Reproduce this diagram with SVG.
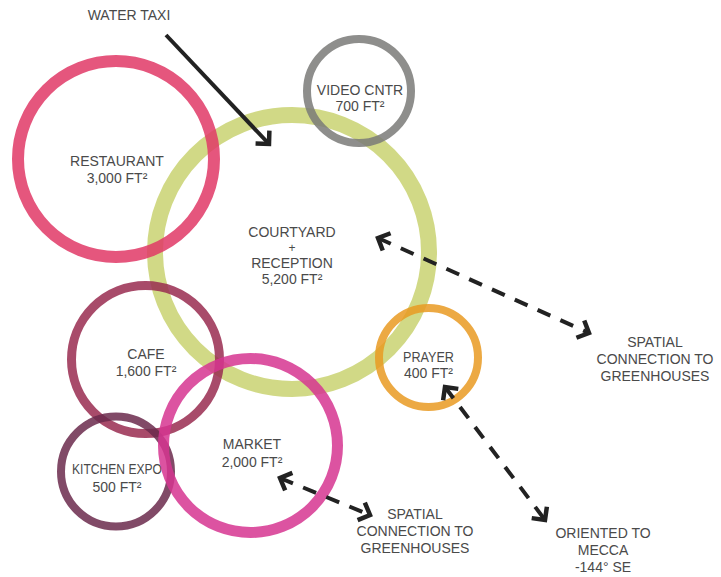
<svg xmlns="http://www.w3.org/2000/svg" width="721" height="577" viewBox="0 0 721 577">
<defs>
<style>
.ring{fill:none;opacity:0.85}
.t{font-family:"Liberation Sans",Arial,sans-serif;font-size:14px;fill:#4a4a4a;text-anchor:middle}
.solid{stroke:#222;stroke-width:4;fill:none}
.dash{stroke:#222;stroke-width:4;fill:none;stroke-dasharray:14 11}
</style>
<marker id="chev" viewBox="-20 -15 30 30" refX="0" refY="0" markerWidth="30" markerHeight="30" markerUnits="userSpaceOnUse" orient="auto-start-reverse">
<path d="M-9.5,-9.5 L0,0 L-9.5,9.5" fill="none" stroke="#222" stroke-width="4.5" stroke-linejoin="miter"/>
</marker>
</defs>
<rect width="721" height="577" fill="#fff"/>
<g id="courtyard">
<circle class="ring" cx="292" cy="252" r="137" stroke="#c9d271" stroke-width="16"/>
<text class="t" x="292" y="237">COURTYARD</text>
<text class="t" x="292" y="252" style="font-size:12px">+</text>
<text class="t" x="292" y="268">RECEPTION</text>
<text class="t" x="292" y="284">5,200 FT²</text>
</g>
<g id="restaurant">
<circle class="ring" cx="116" cy="159" r="98" stroke="#e03866" stroke-width="12"/>
<text class="t" x="117" y="166">RESTAURANT</text>
<text class="t" x="117" y="183">3,000 FT²</text>
</g>
<g id="video">
<circle class="ring" cx="359" cy="91" r="52" stroke="#7a7a78" stroke-width="8"/>
<text class="t" x="360" y="95">VIDEO CNTR</text>
<text class="t" x="360" y="111">700 FT²</text>
</g>
<g id="cafe">
<circle class="ring" cx="145.5" cy="359.5" r="74" stroke="#992c50" stroke-width="9"/>
<text class="t" x="146" y="359">CAFE</text>
<text class="t" x="146" y="376">1,600 FT²</text>
</g>
<g id="kitchen">
<circle class="ring" cx="116" cy="471.5" r="55" stroke="#6b2a4c" stroke-width="8"/>
<text class="t" x="117" y="474" textLength="90" lengthAdjust="spacingAndGlyphs">KITCHEN EXPO</text>
<text class="t" x="117" y="492">500 FT²</text>
</g>
<g id="market">
<circle class="ring" cx="250.5" cy="445.5" r="87" stroke="#d63590" stroke-width="11"/>
<text class="t" x="252" y="449">MARKET</text>
<text class="t" x="252" y="467">2,000 FT²</text>
</g>
<g id="prayer">
<circle class="ring" cx="428.5" cy="357.5" r="49.5" stroke="#e99a22" stroke-width="8"/>
<text class="t" x="428.5" y="362" textLength="51" lengthAdjust="spacingAndGlyphs">PRAYER</text>
<text class="t" x="428.5" y="378">400 FT²</text>
</g>
<g id="labels">
<text class="t" x="129" y="20">WATER TAXI</text>
<text class="t" x="655" y="347">SPATIAL</text>
<text class="t" x="655" y="364">CONNECTION TO</text>
<text class="t" x="655" y="381">GREENHOUSES</text>
<text class="t" x="415" y="519">SPATIAL</text>
<text class="t" x="415" y="536">CONNECTION TO</text>
<text class="t" x="415" y="553">GREENHOUSES</text>
<text class="t" x="603" y="538">ORIENTED TO</text>
<text class="t" x="603" y="555">MECCA</text>
<text class="t" x="603" y="572">-144° SE</text>
</g>
<g id="connectors">
<path class="solid" d="M166,35 L269,144" marker-end="url(#chev)"/>
<path class="dash" d="M378,238 L589,333" marker-start="url(#chev)" marker-end="url(#chev)"/>
<path class="dash" d="M445,387 L545,520" marker-start="url(#chev)" marker-end="url(#chev)"/>
<path class="dash" d="M280,478 L370,515" marker-start="url(#chev)" marker-end="url(#chev)"/>
</g>
</svg>
